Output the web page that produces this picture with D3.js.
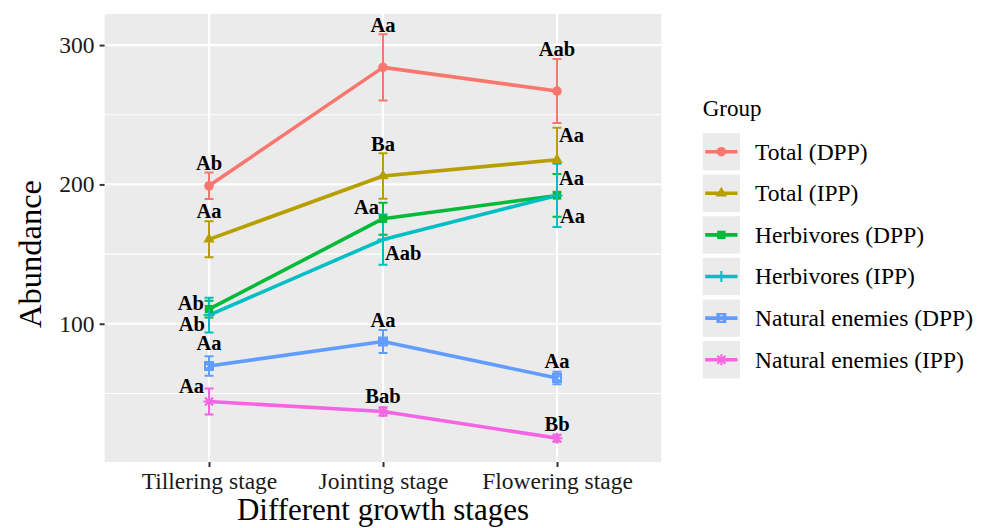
<!DOCTYPE html>
<html>
<head>
<meta charset="utf-8">
<script src="https://cdn.jsdelivr.net/npm/d3@7"></script>
<style>
  body { margin: 0; background: #ffffff; }
  text { font-family: "Liberation Serif", "Times New Roman", serif; }
</style>
</head>
<body>
<svg id="chart" width="983" height="528"></svg>
<script>
// ---- data ----------------------------------------------------------
const stages = ["Tillering stage", "Jointing stage", "Flowering stage"];
const groups = ["Total (DPP)", "Total (IPP)", "Herbivores (DPP)",
                "Herbivores (IPP)", "Natural enemies (DPP)", "Natural enemies (IPP)"];

const totalDPP      = [199.0, 284.0, 267.0];
const totalDPPse    = [9.5, 23.7, 23.0];
const totalIPP      = [160.6, 206.0, 217.7];
const totalIPPse    = [12.9, 16.3, 23.0];
const herbDPP       = [110.5, 175.4, 192.1];
const herbDPPse     = [6.0, 11.5, 15.3];
const herbIPP       = [106.2, 160.4, 192.1];
const herbIPPse     = [12.5, 18.0, 22.7];
const enemyDPP      = [69.7, 87.3, 61.0];
const enemyDPPse    = [7.0, 8.2, 4.5];
const enemyIPP      = [44.2, 37.0, 17.9];
const enemyIPPse    = [9.3, 3.0, 2.5];

const letters = [
  ["Ab", "Aa", "Aab"],
  ["Aa", "Ba", "Aa"],
  ["Ab", "Aa", "Aa"],
  ["Ab", "Aab", "Aa"],
  ["Aa", "Aa", "Aa"],
  ["Aa", "Bab", "Bb"]
];

const yTicks = [100, 200, 300];
const yMinor = [50, 150, 250];

const means = [totalDPP, totalIPP, herbDPP, herbIPP, enemyDPP, enemyIPP];
const ses   = [totalDPPse, totalIPPse, herbDPPse, herbIPPse, enemyDPPse, enemyIPPse];

// ---- styling -------------------------------------------------------
const colors = ["#F8766D", "#B79F00", "#00BA38", "#00BFC4", "#619CFF", "#F564E3"];
const shapes = ["circle", "triangle", "square", "plus", "boxx", "asterisk"];

const series = groups.map((g, i) => ({
  name: g, color: colors[i], shape: shapes[i],
  values: stages.map((s, j) => ({ stage: s, mean: means[i][j], se: ses[i][j], letter: letters[i][j] }))
}));

// letter placement: [anchor, reference ("top" | "mean" | "bottom"), dx, dy]
const placement = [
  [["middle","top",0,-2.5], ["middle","top",0,-2], ["middle","top",0,-3]],
  [["middle","top",0,-3],   ["middle","top",0,-2], ["start","top",2,14.5]],
  [["end","mean",-5,1],     ["end","mean",-4,-5],  ["start","top",2,10.5]],
  [["end","bottom",-4,-2],  ["start","bottom",2,-4.3], ["start","bottom",3,-4]],
  [["middle","top",0,-6],   ["middle","top",0,-3.4], ["middle","top",0,-3.4]],
  [["end","top",-5,4],      ["middle","top",0,-4], ["middle","top",0,-3.3]]
];

const svg = d3.select("#chart");
const panel = { left: 104.6, right: 661.4, top: 14, bottom: 462 };

const x = d3.scalePoint().domain(stages)
  .range([panel.left, panel.right]).padding(0.6);

const lo = d3.min(series, s => d3.min(s.values, v => v.mean - v.se));
const hi = d3.max(series, s => d3.max(s.values, v => v.mean + v.se));
const pad = (hi - lo) * 0.05;
const y = d3.scaleLinear().domain([lo - pad, hi + pad]).range([panel.bottom, panel.top]);

// panel background and grid
svg.append("rect")
  .attr("x", panel.left).attr("y", panel.top)
  .attr("width", panel.right - panel.left).attr("height", panel.bottom - panel.top)
  .attr("fill", "#EBEBEB");

const grid = svg.append("g");
grid.selectAll("line.minor").data(yMinor).join("line")
  .attr("x1", panel.left).attr("x2", panel.right)
  .attr("y1", d => y(d)).attr("y2", d => y(d))
  .attr("stroke", "#fff").attr("stroke-width", 1.1);
grid.selectAll("line.major").data(yTicks).join("line")
  .attr("x1", panel.left).attr("x2", panel.right)
  .attr("y1", d => y(d)).attr("y2", d => y(d))
  .attr("stroke", "#fff").attr("stroke-width", 2.2);
grid.selectAll("line.vmajor").data(stages).join("line")
  .attr("x1", d => x(d)).attr("x2", d => x(d))
  .attr("y1", panel.top).attr("y2", panel.bottom)
  .attr("stroke", "#fff").attr("stroke-width", 2.2);

// axes
const yAxis = d3.axisLeft(y).tickValues(yTicks).tickSize(5).tickPadding(5);
const gy = svg.append("g").attr("transform", `translate(${panel.left},0)`).call(yAxis);
const xAxis = d3.axisBottom(x).tickSize(5).tickPadding(4);
const gx = svg.append("g").attr("transform", `translate(0,${panel.bottom})`).call(xAxis);
[gy, gx].forEach(g => {
  g.select(".domain").remove();
  g.selectAll(".tick line").attr("stroke", "#333").attr("stroke-width", 2);
  g.selectAll(".tick text")
    .attr("fill", "#1a1a1a")
    .style("font-family", '"Liberation Serif", serif')
    .style("font-size", "23.5px");
});
gx.selectAll(".tick text").attr("dy", "0.75em");

svg.append("text")
  .attr("x", (panel.left + panel.right) / 2).attr("y", 520)
  .attr("text-anchor", "middle").attr("fill", "#000")
  .style("font-size", "31px").text("Different growth stages");
svg.append("text")
  .attr("transform", "translate(41,254) rotate(-90)")
  .attr("text-anchor", "middle").attr("fill", "#000")
  .style("font-size", "32.5px").text("Abundance");

// point glyphs
function drawShape(g, shape, color) {
  if (shape === "circle") {
    g.append("circle").attr("r", 4.8).attr("fill", color);
  } else if (shape === "triangle") {
    g.append("path").attr("d", d3.symbol(d3.symbolTriangle, 56)()).attr("fill", color);
  } else if (shape === "square") {
    g.append("rect").attr("x", -4.2).attr("y", -4.2).attr("width", 8.4).attr("height", 8.4).attr("fill", color);
  } else if (shape === "plus") {
    g.append("path").attr("d", "M-5.5,0H5.5M0,-5.5V5.5")
      .attr("stroke", color).attr("stroke-width", 2).attr("fill", "none");
  } else if (shape === "boxx") {
    g.append("path").attr("d", "M-4,-4H4V4H-4ZM-4,-4L4,4M4,-4L-4,4")
      .attr("stroke", color).attr("stroke-width", 2).attr("fill", "none");
  } else if (shape === "asterisk") {
    g.append("path").attr("d", "M-5.5,0H5.5M0,-5.5V5.5M-4,-4L4,4M4,-4L-4,4")
      .attr("stroke", color).attr("stroke-width", 2).attr("fill", "none");
  }
}

// error bars
const capHalf = 4.5;
series.forEach(s => {
  const g = svg.append("g").attr("stroke", s.color).attr("stroke-width", 2).attr("fill", "none");
  s.values.forEach(v => {
    const cx = x(v.stage), t = y(v.mean + v.se), b = y(v.mean - v.se);
    g.append("path").attr("d", `M${cx - capHalf},${t}H${cx + capHalf}M${cx},${t}V${b}M${cx - capHalf},${b}H${cx + capHalf}`);
  });
});

// lines
const line = d3.line().x(v => x(v.stage)).y(v => y(v.mean));
series.forEach(s => {
  svg.append("path").datum(s.values).attr("d", line)
    .attr("fill", "none").attr("stroke", s.color).attr("stroke-width", 3.6)
    .attr("stroke-linejoin", "round");
});

// points
series.forEach(s => {
  s.values.forEach(v => {
    const g = svg.append("g").attr("transform", `translate(${x(v.stage)},${y(v.mean)})`);
    drawShape(g, s.shape, s.color);
  });
});

// significance letters
series.forEach((s, i) => {
  s.values.forEach((v, j) => {
    const [anchor, ref, dx, dy] = placement[i][j];
    const val = ref === "top" ? v.mean + v.se : ref === "bottom" ? v.mean - v.se : v.mean;
    svg.append("text")
      .attr("x", x(v.stage) + dx).attr("y", y(val) + dy)
      .attr("text-anchor", anchor).attr("fill", "#000")
      .style("font-size", "20.5px").style("font-weight", "bold")
      .text(v.letter);
  });
});

// legend
const legend = svg.append("g").attr("transform", "translate(702.7,0)");
legend.append("text").attr("x", 0).attr("y", 116).attr("fill", "#000")
  .style("font-size", "23px").text("Group");
const keySize = 37.3, pitch = 41.6, firstCenter = 151.7;
series.forEach((s, i) => {
  const cy = firstCenter + i * pitch;
  const k = legend.append("g");
  k.append("rect").attr("x", 0).attr("y", cy - keySize / 2)
    .attr("width", keySize).attr("height", keySize).attr("fill", "#EBEBEB");
  k.append("line").attr("x1", 2.5).attr("x2", keySize - 2.5).attr("y1", cy).attr("y2", cy)
    .attr("stroke", s.color).attr("stroke-width", 3.6);
  const p = k.append("g").attr("transform", `translate(${keySize / 2},${cy})`);
  drawShape(p, s.shape, s.color);
  k.append("text").attr("x", 52.3).attr("y", cy).attr("dy", "0.34em")
    .attr("fill", "#000").style("font-size", "23.5px").text(s.name);
});
</script>
</body>
</html>
